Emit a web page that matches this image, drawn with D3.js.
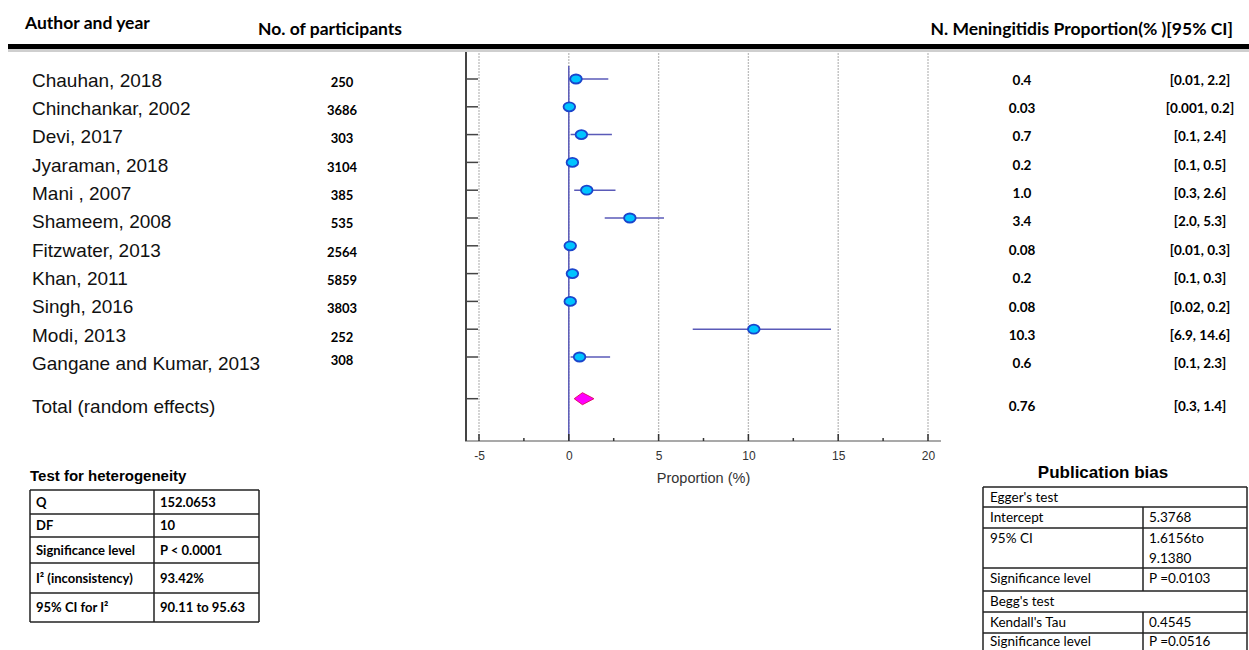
<!DOCTYPE html>
<html>
<head>
<meta charset="utf-8">
<script src="https://cdn.jsdelivr.net/npm/d3@7"></script>
<style>
  body { margin: 0; background: #fff; }
  svg { display: block; }
</style>
</head>
<body>
<div id="chart"></div>
<script>
const studies = ["Chauhan, 2018", "Chinchankar, 2002", "Devi, 2017", "Jyaraman, 2018", "Mani , 2007",
  "Shameem,  2008", "Fitzwater, 2013", "Khan, 2011", "Singh, 2016", "Modi, 2013", "Gangane and Kumar, 2013"];
const participants = ["250", "3686", "303", "3104", "385", "535", "2564", "5859", "3803", "252", "308"];
const proportions = [0.4, 0.03, 0.7, 0.2, 1.0, 3.4, 0.08, 0.2, 0.08, 10.3, 0.6];
const ciLow = [0.01, 0.001, 0.1, 0.1, 0.3, 2.0, 0.01, 0.1, 0.02, 6.9, 0.1];
const ciHigh = [2.2, 0.2, 2.4, 0.5, 2.6, 5.3, 0.3, 0.3, 0.2, 14.6, 2.3];
const propLabels = ["0.4", "0.03", "0.7", "0.2", "1.0", "3.4", "0.08", "0.2", "0.08", "10.3", "0.6"];
const ciLabels = ["[0.01, 2.2]", "[0.001, 0.2]", "[0.1, 2.4]", "[0.1, 0.5]", "[0.3, 2.6]", "[2.0, 5.3]",
  "[0.01, 0.3]", "[0.1, 0.3]", "[0.02, 0.2]", "[6.9, 14.6]", "[0.1, 2.3]"];

const totalLabel = "Total (random effects)";
const totalProp = 0.76;
const totalLow = 0.3;
const totalHigh = 1.4;
const totalPropLabel = "0.76";
const totalCiLabel = "[0.3, 1.4]";

const xTicks = [-5, 0, 5, 10, 15, 20];

const heteroRows = [
  ["Q", "152.0653"],
  ["DF", "10"],
  ["Significance level", "P < 0.0001"],
  ["I\u00b2 (inconsistency)", "93.42%"],
  ["95% CI for I\u00b2", "90.11 to 95.63"]
];
const biasRows = [
  ["Egger's test", null],
  ["Intercept", "5.3768"],
  ["95% CI", "1.6156to|9.1380"],
  ["Significance level", "P =0.0103"],
  ["Begg's test", null],
  ["Kendall's Tau", "0.4545"],
  ["Significance level", "P =0.0516"]
];

const W = 1249, H = 650;
const svg = d3.select("#chart").append("svg").attr("width", W).attr("height", H);

const calibri = "Lato, 'Open Sans', sans-serif";
const arial = "'Liberation Sans', Arial, sans-serif";

//HEADER
svg.append("text").attr("x", 25).attr("y", 29).text("Author and year")
  .style("font-family", calibri).style("font-weight", 700).style("font-size", "17.5px");
svg.append("text").attr("x", 258).attr("y", 35).text("No. of participants")
  .style("font-family", calibri).style("font-weight", 700).style("font-size", "17.5px");
svg.append("text").attr("x", 1233).attr("y", 35).attr("text-anchor", "end")
  .text("N. Meningitidis Proportion(% )[95% CI]")
  .style("font-family", calibri).style("font-weight", 700).style("font-size", "17.5px");

svg.append("rect").attr("x", 8).attr("y", 49).attr("width", W - 8).attr("height", 3).attr("fill", "#cfcfcf");
svg.append("rect").attr("x", 8).attr("y", 44).attr("width", W - 8).attr("height", 5).attr("fill", "#000");

//SCALES
const x = d3.scaleLinear().domain([-5, 20]).range([479, 928]);
const yPlot = d3.scaleLinear().domain([0, 11.5]).range([79, 398.7]);
const yText = d3.scaleLinear().domain([0, 11.5]).range([80, 406]);
const rowIdx = d3.range(studies.length);

//GRIDLINES
svg.append("g").selectAll("line").data(xTicks).join("line")
  .attr("x1", d => x(d)).attr("x2", d => x(d))
  .attr("y1", 53).attr("y2", 441)
  .attr("stroke", "#bdbdbd").attr("stroke-width", 1.3).attr("stroke-dasharray", "2,1");

//NULL LINE
svg.append("line").attr("x1", x(0)).attr("x2", x(0)).attr("y1", 66).attr("y2", 441)
  .attr("stroke", "#5a5ab8").attr("stroke-width", 1.5);

//X AXIS
const axisY = 441;
const xAxis = svg.append("g").attr("transform", `translate(0,${axisY})`)
  .call(d3.axisBottom(x).tickValues(xTicks).tickSize(0).tickPadding(10).tickFormat(d => String(d)));
xAxis.select(".domain").remove();
xAxis.selectAll("text").style("font-family", arial).style("font-size", "12px").attr("fill", "#333");
svg.append("line").attr("x1", 465).attr("x2", 941).attr("y1", axisY).attr("y2", axisY)
  .attr("stroke", "#555").attr("stroke-width", 1.2);
svg.append("g").selectAll("line").data(xTicks).join("line")
  .attr("x1", d => x(d)).attr("x2", d => x(d)).attr("y1", axisY - 7).attr("y2", axisY)
  .attr("stroke", "#333").attr("stroke-width", 1.5);
svg.append("g").selectAll("line").data(xTicks.slice(0, -1).map(d => d + 2.5)).join("line")
  .attr("x1", d => x(d)).attr("x2", d => x(d)).attr("y1", axisY - 3).attr("y2", axisY)
  .attr("stroke", "#333").attr("stroke-width", 1.5);
svg.append("text").attr("x", x(7.5)).attr("y", 483).attr("text-anchor", "middle")
  .text("Proportion (%)").style("font-family", arial).style("font-size", "14.5px").attr("fill", "#333");

//Y AXIS
svg.append("line").attr("x1", 466).attr("x2", 466).attr("y1", 52).attr("y2", axisY)
  .attr("stroke", "#444").attr("stroke-width", 2);
svg.append("g").selectAll("line").data(rowIdx.concat([11.5])).join("line")
  .attr("x1", 466).attr("x2", 478).attr("y1", d => yPlot(d)).attr("y2", d => yPlot(d))
  .attr("stroke", "#444").attr("stroke-width", 1.5);

//CI LINES
svg.append("g").selectAll("line").data(rowIdx).join("line")
  .attr("x1", i => x(ciLow[i])).attr("x2", i => x(ciHigh[i]))
  .attr("y1", i => yPlot(i)).attr("y2", i => yPlot(i))
  .attr("stroke", "#5a5ab8").attr("stroke-width", 1.5);

//POINTS
svg.append("g").selectAll("ellipse").data(rowIdx).join("ellipse")
  .attr("cx", i => x(proportions[i])).attr("cy", i => yPlot(i))
  .attr("rx", 5.8).attr("ry", 4.5)
  .attr("fill", "#00c4ff").attr("stroke", "#1a45cc").attr("stroke-width", 1.8);

//TOTAL DIAMOND
const ty = yPlot(11.5);
svg.append("path")
  .attr("d", `M${x(totalLow)},${ty} L${x(totalProp)},${ty - 6} L${x(totalHigh)},${ty} L${x(totalProp)},${ty + 6} Z`)
  .attr("fill", "#ff00ff").attr("stroke", "#e0106a").attr("stroke-width", 1);

//LEFT COLUMNS
svg.append("g").selectAll("text").data(studies.concat([totalLabel])).join("text")
  .attr("x", 32).attr("y", (d, i) => yText(i === studies.length ? 11.5 : i))
  .attr("dy", "0.35em").text(d => d)
  .style("font-family", arial).style("font-size", "19px").attr("fill", "#111");
svg.append("g").selectAll("text").data(participants).join("text")
  .attr("x", 342).attr("y", (d, i) => yText(i) + (i === 10 ? -3 : 2))
  .attr("dy", "0.35em").attr("text-anchor", "middle").text(d => d)
  .style("font-family", calibri).style("font-weight", 700).style("font-size", "13px");

//RIGHT COLUMNS
svg.append("g").selectAll("text").data(propLabels.concat([totalPropLabel])).join("text")
  .attr("x", 1022).attr("y", (d, i) => yText(i === studies.length ? 11.5 : i))
  .attr("dy", "0.35em").attr("text-anchor", "middle").text(d => d)
  .style("font-family", calibri).style("font-weight", 700).style("font-size", "13.5px");
svg.append("g").selectAll("text").data(ciLabels.concat([totalCiLabel])).join("text")
  .attr("x", 1200).attr("y", (d, i) => yText(i === studies.length ? 11.5 : i))
  .attr("dy", "0.35em").attr("text-anchor", "middle").text(d => d)
  .style("font-family", calibri).style("font-weight", 700).style("font-size", "13.5px");

//HETEROGENEITY TABLE
svg.append("text").attr("x", 30).attr("y", 481).text("Test for heterogeneity")
  .style("font-family", arial).style("font-weight", 700).style("font-size", "15px");
const hLines = [490, 514, 537, 563, 593, 622];
const hg = svg.append("g");
hg.selectAll("line.h").data(hLines).join("line").attr("class", "h")
  .attr("x1", 30).attr("x2", 259).attr("y1", d => d).attr("y2", d => d)
  .attr("stroke", "#222").attr("stroke-width", 1.5);
[30, 154, 259].forEach(cx => hg.append("line").attr("x1", cx).attr("x2", cx)
  .attr("y1", 490).attr("y2", 622).attr("stroke", "#222").attr("stroke-width", 1.5));
heteroRows.forEach((r, i) => {
  const cy = (hLines[i] + hLines[i + 1]) / 2;
  [r[0], r[1]].forEach((t, j) => hg.append("text")
    .attr("x", j === 0 ? 36 : 160).attr("y", cy).attr("dy", "0.35em").text(t)
    .style("font-family", calibri).style("font-weight", 700).style("font-size", "13px"));
});

//PUBLICATION BIAS TABLE
svg.append("text").attr("x", 1103).attr("y", 478).attr("text-anchor", "middle").text("Publication bias")
  .style("font-family", arial).style("font-weight", 700).style("font-size", "17px");
const bLines = [487, 507, 528, 568, 591, 612, 633, 656];
const bg = svg.append("g");
bg.selectAll("line").data(bLines).join("line")
  .attr("x1", 983).attr("x2", 1247).attr("y1", d => d).attr("y2", d => d)
  .attr("stroke", "#222").attr("stroke-width", 1.5);
[983, 1247].forEach(cx => bg.append("line").attr("x1", cx).attr("x2", cx)
  .attr("y1", 487).attr("y2", 656).attr("stroke", "#222").attr("stroke-width", 1.5));
biasRows.forEach((r, i) => {
  const top = bLines[i];
  const ty0 = top + (i === biasRows.length - 1 ? 8 : 10);
  if (r[1] !== null) {
    bg.append("line").attr("x1", 1143).attr("x2", 1143).attr("y1", top).attr("y2", bLines[i + 1])
      .attr("stroke", "#222").attr("stroke-width", 1.5);
  }
  bg.append("text").attr("x", 990).attr("y", ty0).attr("dy", "0.35em").text(r[0])
    .style("font-family", calibri).style("font-size", "13.5px");
  if (r[1] !== null) {
    r[1].split("|").forEach((t, k) => bg.append("text")
      .attr("x", 1149).attr("y", ty0 + k * 20).attr("dy", "0.35em").text(t)
      .style("font-family", calibri).style("font-size", "13.5px"));
  }
});
</script>
</body>
</html>
